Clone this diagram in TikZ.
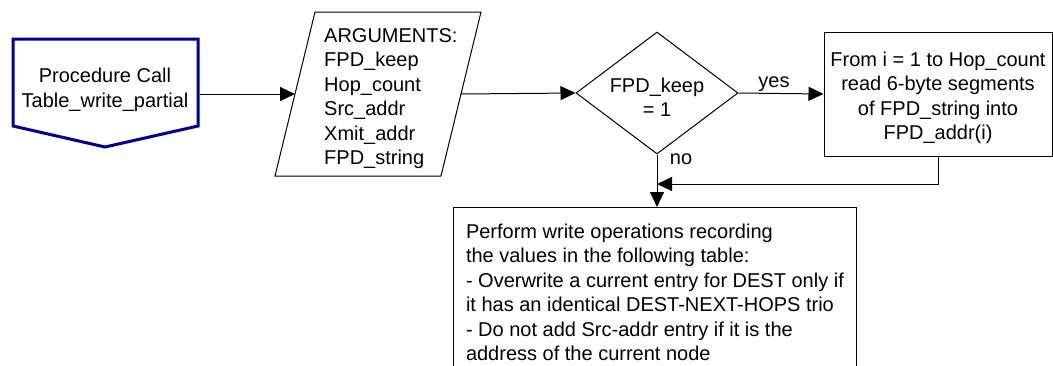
\documentclass[tikz,border=0pt]{standalone}
\usepackage{fontspec}
\setmainfont{Liberation Sans}
\usetikzlibrary{shapes.geometric,arrows.meta}
\definecolor{procblue}{RGB}{0,0,153}
\begin{document}
\begin{tikzpicture}[x=1pt,y=-1pt,
  txt/.style={font=\fontsize{20}{24.5}\selectfont, inner sep=0pt, align=center},
  conn/.style={line width=1pt, -{Triangle[length=15pt,width=14pt]}},
  outline/.style={draw, line width=1pt},
  procshape/.style={draw=procblue, line width=3pt, line join=miter}]
\useasboundingbox (0,0) rectangle (1053,365);

% procedure call (off-page connector shape)
\draw[procshape] (13,39) -- (198,39) -- (198,126) -- (105,147) -- (13,126) -- cycle;
\node[txt] (proc) at (105,89.5) {Procedure Call\\[0.5pt]Table\_write\_partial};
\coordinate (procout) at (199.5,94);

% arguments parallelogram
\draw[outline] (315,12) -- (481,12) -- (441,176) -- (275,176) -- cycle;
\coordinate (argin) at (295,94);
\coordinate (argout) at (461,94);
\node[txt, align=left, anchor=west] (args) at (324,98.5)
  {ARGUMENTS:\\FPD\_keep\\Hop\_count\\Src\_addr\\Xmit\_addr\\FPD\_string};

% decision
\node[outline, diamond, shape aspect=1.33, minimum width=162pt, minimum height=122pt, inner sep=0pt] (dec) at (657,93) {};
\node[txt] (dectext) at (657,97) {FPD\_keep\\= 1};

% read box
\node[outline, rectangle, minimum width=228pt, minimum height=124pt, inner sep=0pt] (read) at (938,94) {};
\node[txt] (readtext) at (938,98)
  {From i = 1 to Hop\_count\\read 6-byte segments\\of FPD\_string into\\FPD\_addr(i)};

% write box
\node[outline, rectangle, anchor=north west, txt, align=left,
      inner xsep=12.5pt, inner ysep=16pt] (write) at (453,207)
  {Perform write operations recording\\
   the values in the following table:\\
   - Overwrite a current entry for DEST only if\\
   it has an identical DEST-NEXT-HOPS trio\\
   - Do not add Src-addr entry if it is the\\
   address of the current node};

% labels
\node[txt] (yes) at (774,84) {yes};
\node[txt] (no) at (681,159) {no};

% connectors
\coordinate (join) at (657,184);
\draw[conn] (procout) -- (argin);
\draw[conn] (argout) -- (dec.west);
\draw[conn] (dec.east) -- (read.west);
\draw[conn] (read.south) |- (join);
\draw[conn] (dec.south) -- (dec.south |- write.north);
\end{tikzpicture}
\end{document}
